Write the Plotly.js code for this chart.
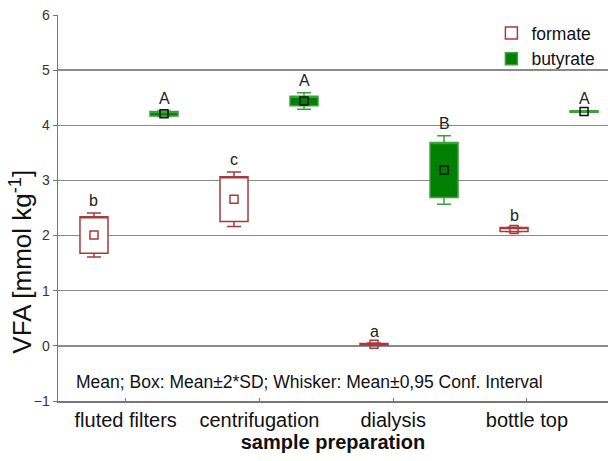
<!DOCTYPE html>
<html><head><meta charset="utf-8">
<script src="https://cdn.plot.ly/plotly-3.0.1.min.js"></script>
<style>html,body{margin:0;padding:0;background:#fff}</style>
</head><body><div id="chart" style="width:608px;height:461px"></div>
<script>
// ---- data ----
const categories = ['fluted filters', 'centrifugation', 'dialysis', 'bottle top'];
const formateMean = [2.01, 2.66, 0.03, 2.11];
const formateSD2  = [0.33, 0.405, 0.015, 0.035];   // half box height (2*SD)
const formateCI   = [0.40, 0.495, 0.02, 0.04];     // half whisker (0.95 CI)
const butyrateMean = [4.21, 4.44, 3.19, 4.25];
const butyrateSD2  = [0.04, 0.085, 0.50, 0.012];
const butyrateCI   = [0.05, 0.15, 0.62, 0.015];
const formateLetters  = ['b', 'c', 'a', 'b'];
const butyrateLetters = ['A', 'A', 'B', 'A'];
const yTicks = [-1, 0, 1, 2, 3, 4, 5, 6];

// ---- styling ----
const RED = '#a83a3d', GREEN_FILL = '#008000', GREEN_LINE = '#3f9e3f';
const FONT = 'Liberation Sans, Arial, sans-serif';

const idx = categories.map((c, i) => i);
const fx = idx.map(i => i - 0.25);
const bx = idx.map(i => i + 0.25);

function boxTrace(name, xs, mean, half, ci, line, fill) {
  const q1 = mean.map((m, i) => m - half[i]);
  const q3 = mean.map((m, i) => m + half[i]);
  return {
    type: 'box', name: name, x: xs,
    q1: q1, q3: q3, median: q3,
    lowerfence: mean.map((m, i) => m - ci[i]),
    upperfence: mean.map((m, i) => m + ci[i]),
    width: 0.2, whiskerwidth: 0.5,
    line: { color: line, width: 1.5 }, fillcolor: fill,
    hoverinfo: 'skip', xaxis: 'x', yaxis: 'y'
  };
}
function meanTrace(xs, mean, color) {
  return {
    type: 'scatter', mode: 'markers', x: xs, y: mean, showlegend: false,
    marker: { symbol: 'square-open', size: 8, color: color, line: { width: 1.5, color: color } },
    hoverinfo: 'skip', xaxis: 'x', yaxis: 'y'
  };
}

const traces = [
  boxTrace('formate', fx, formateMean, formateSD2, formateCI, RED, '#ffffff'),
  boxTrace('butyrate', bx, butyrateMean, butyrateSD2, butyrateCI, GREEN_LINE, GREEN_FILL),
  meanTrace(fx, formateMean, RED),
  meanTrace(bx, butyrateMean, '#111111'),
  { type: 'scatter', mode: 'markers', x: categories, y: categories.map(() => null),
    xaxis: 'x2', yaxis: 'y', showlegend: false, hoverinfo: 'skip' }
];

const annotations = [];
idx.forEach(i => {
  annotations.push({ x: fx[i], y: formateMean[i] + formateCI[i], xref: 'x', yref: 'y',
    text: formateLetters[i], showarrow: false, yanchor: 'middle', yshift: 12,
    font: { family: FONT, size: 16, color: '#222' } });
  annotations.push({ x: bx[i], y: butyrateMean[i] + butyrateCI[i], xref: 'x', yref: 'y',
    text: butyrateLetters[i], showarrow: false, yanchor: 'middle', yshift: 12,
    font: { family: FONT, size: 16, color: '#222' } });
});
annotations.push({ x: 0.029, xref: 'paper', y: -0.65, yref: 'y', xanchor: 'left', yanchor: 'middle',
  text: 'Mean; Box: Mean±2*SD; Whisker: Mean±0,95 Conf. Interval', showarrow: false,
  font: { family: FONT, size: 17.5, color: '#111' } });
// y-axis title, placed like the reference (slightly below the axis centre)
annotations.push({ x: -0.068, xref: 'paper', y: 0.36, yref: 'paper', textangle: -90,
  xanchor: 'center', yanchor: 'middle', showarrow: false,
  text: 'VFA [mmol kg<sup>-1</sup>]', font: { family: FONT, size: 26, color: '#111' } });

const layout = {
  width: 608, height: 461,
  margin: { l: 58, r: 0, t: 15, b: 60 },
  paper_bgcolor: '#ffffff', plot_bgcolor: '#ffffff',
  font: { family: FONT, color: '#111' },
  boxmode: 'overlay',
  showlegend: true,
  legend: { x: 0.788, y: 1.0, xanchor: 'left', yanchor: 'top', bgcolor: 'rgba(0,0,0,0)',
    font: { family: FONT, size: 17.5, color: '#111' }, tracegroupgap: 0, itemwidth: 30 },
  xaxis: { range: [-0.507, 3.421], showticklabels: false, showgrid: false, zeroline: false,
    showline: false, ticks: '', fixedrange: true },
  xaxis2: { overlaying: 'x', type: 'category', categoryorder: 'array', categoryarray: categories,
    range: [-0.506, 3.606], side: 'bottom', showgrid: false, zeroline: false,
    showline: true, linecolor: '#777', linewidth: 1.5, ticks: 'inside', ticklen: 3, tickcolor: '#777',
    tickfont: { family: FONT, size: 20, color: '#111' },
    title: { text: '<b>sample preparation</b>', font: { family: FONT, size: 20, color: '#111' }, standoff: 4 } },
  yaxis: { range: [-1, 6], tickvals: yTicks, showgrid: true, gridcolor: '#8a8a8a', gridwidth: 1.5,
    zeroline: false, showline: true, linecolor: '#777', linewidth: 1.5,
    ticks: 'outside', ticklen: 4, tickcolor: '#777',
    tickfont: { family: FONT, size: 14, color: '#333' } },
  annotations: annotations
};

Plotly.newPlot('chart', traces, layout, { staticPlot: true, displayModeBar: false });
</script></body></html>
